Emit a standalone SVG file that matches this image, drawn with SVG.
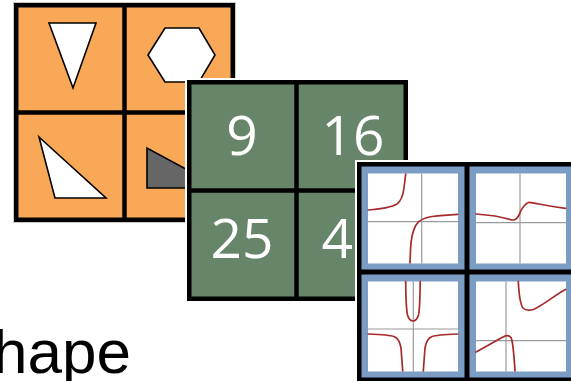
<svg xmlns="http://www.w3.org/2000/svg" width="571" height="381" viewBox="0 0 571 381">
<style>
.frame{stroke:#000;stroke-width:4.5}
.div{stroke:#000;stroke-width:4.5;fill:none}
.shape{fill:#fff;stroke:#000;stroke-width:1.6;stroke-linejoin:miter}
.num{font-family:"Open Sans","Noto Sans",sans-serif;font-size:55px;fill:#fff;text-anchor:middle}
.plot{fill:#fff}
.axis{stroke:#9a9a9a;stroke-width:1.2;fill:none}
.curve{stroke:#a8292b;stroke-width:1.7;fill:none;stroke-linecap:round}
.label{font-family:"Liberation Sans",Arial,sans-serif;font-size:62px;fill:#000}
</style>
<rect width="571" height="381" fill="#fff"/>
<g id="orange-panel">
<rect x="13.5" y="2.5" width="222" height="220" fill="none" stroke="#c8c8c8" stroke-width="1"/>
<rect class="frame" x="16.25" y="5.25" width="216.5" height="214.5" fill="#f9a857"/>
<line class="div" x1="124.5" y1="5" x2="124.5" y2="220"/>
<line class="div" x1="16" y1="112.5" x2="233" y2="112.5"/>
<polygon class="shape" points="49,23 96,23 73,88"/>
<polygon class="shape" points="148,55 165,28 199,28 215,55 199,82 165,82"/>
<polygon class="shape" points="39,137 106,198 55,198"/>
<polygon class="shape" points="147,148 147,188 221,188" style="fill:#666"/>
</g>
<g id="green-panel">
<rect x="185" y="78" width="225" height="225" fill="#fff"/>
<rect class="frame" x="189.25" y="82.25" width="216.5" height="216.5" fill="#678569"/>
<line class="div" x1="296.5" y1="82" x2="296.5" y2="299"/>
<line class="div" x1="189" y1="190.5" x2="406" y2="190.5"/>
<text class="num" x="242" y="155">9</text>
<text class="num" x="353" y="155">16</text>
<text class="num" x="242" y="258">25</text>
<text class="num" x="353" y="258">49</text>
</g>
<g id="blue-panel">
<rect x="355" y="160" width="230" height="230" fill="#fff"/>
<rect x="357" y="162" width="225" height="225" fill="#000"/>
<rect x="361.5" y="166.5" width="103" height="103" fill="#7b9cc3"/>
<rect x="469.5" y="166.5" width="103" height="103" fill="#7b9cc3"/>
<rect x="361.5" y="274.5" width="103" height="103" fill="#7b9cc3"/>
<rect x="469.5" y="274.5" width="103" height="103" fill="#7b9cc3"/>
<rect class="plot" x="368" y="173.5" width="90" height="90"/>
<rect class="plot" x="476" y="173.5" width="90" height="90"/>
<rect class="plot" x="368" y="281.5" width="90" height="90"/>
<rect class="plot" x="476" y="281.5" width="90" height="90"/>
<line class="axis" x1="421.7" y1="173.5" x2="421.7" y2="263.5"/>
<line class="axis" x1="368" y1="221.7" x2="458" y2="221.7"/>
<path class="curve" d="M368.3,210 C380,209 392,207 397,204 C401,201 403,196 404,188 L405.7,174"/>
<path class="curve" d="M410,263 L410.5,250 C411,238 413,230 416,225 C419,219.5 425,217.5 432,216.5 C442,215.2 450,214.7 457.7,214.3"/>
<line class="axis" x1="520" y1="173.5" x2="520" y2="263.5"/>
<line class="axis" x1="476" y1="222.7" x2="566" y2="222.7"/>
<path class="curve" d="M476,214 C490,215 502,217 510,219.5 C515,221 517,219 519,215 C521,210 524,204 529,202.3 C536,203 545,205.8 565.5,208.3"/>
<line class="axis" x1="413.3" y1="281.5" x2="413.3" y2="371.5"/>
<line class="axis" x1="368" y1="329" x2="458" y2="329"/>
<path class="curve" d="M405.7,281.5 C405.8,295 406,308 407.5,315 C409,320 411,321 413,321 C415,321 417,320 418.5,315 C420,308 420,295 420.2,281.5"/>
<path class="curve" d="M368.3,334 C380,334.5 390,335 394,336.5 C398,338 400,342 401,348 L402.7,371"/>
<path class="curve" d="M423.3,371 L425,348 C426,342 428,338 432,336.5 C436,335 446,334.5 457.7,334"/>
<line class="axis" x1="506" y1="281.5" x2="506" y2="371.5"/>
<line class="axis" x1="476" y1="340.7" x2="566" y2="340.7"/>
<path class="curve" d="M518.3,281.5 C519,295 520,304 523,308 C526,311 530,310.5 534,309.2 C545,304 555,295 565.5,289.5"/>
<path class="curve" d="M476,352 C485,347 495,341.5 502,337.5 C506,335 509,335 511,337.5 C513,341 514,355 515,371"/>
</g>
<text class="label" x="-7" y="373">hape</text>
</svg>
